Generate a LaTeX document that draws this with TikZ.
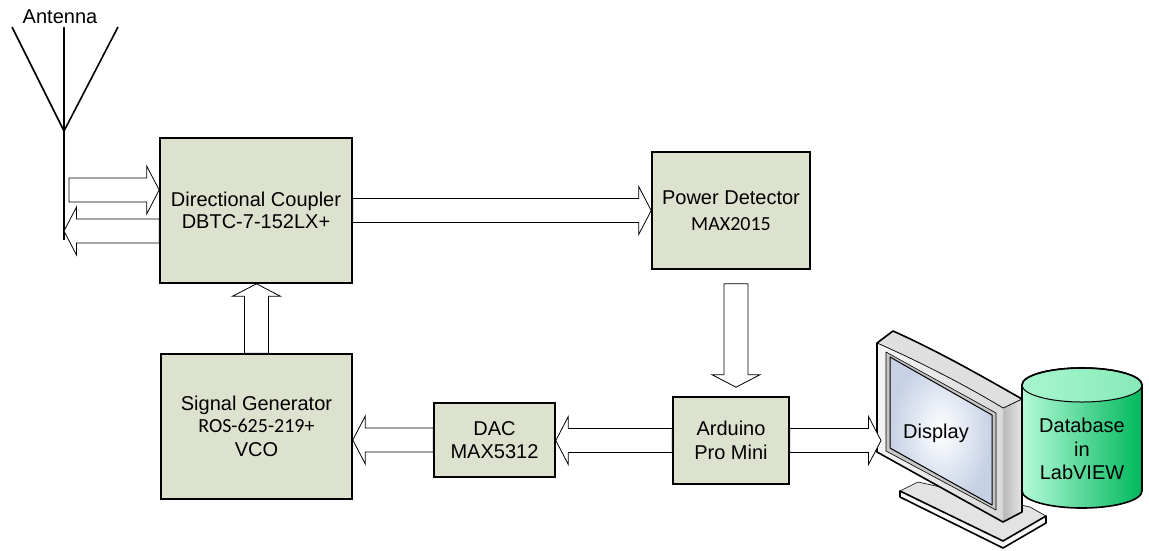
\documentclass[tikz,border=0pt]{standalone}
\usepackage{fontspec}
\setmainfont{Liberation Sans}
\newfontfamily\partfont{Carlito}
\usetikzlibrary{calc}

\definecolor{boxfill}{RGB}{221,226,206}
\definecolor{screenblue}{RGB}{198,209,230}
\definecolor{dbleft}{RGB}{180,250,216}
\definecolor{dbright}{RGB}{0,184,92}
\definecolor{dbtop}{RGB}{168,246,206}

% hollow block arrow from tail #2 to tip #3
\newcommand{\bkarrow}[3][]{%
  \path (#2) coordinate (ba-s) (#3) coordinate (ba-t);
  \path ($(ba-t)!12.5pt!(ba-s)$) coordinate (ba-n);
  \draw[arrowline,#1] ($(ba-s)!12pt!90:(ba-t)$)
    -- ($(ba-n)!12pt!-90:(ba-s)$) -- ($(ba-n)!24pt!-90:(ba-s)$)
    -- (ba-t)
    -- ($(ba-n)!24pt!90:(ba-s)$) -- ($(ba-n)!12pt!90:(ba-s)$)
    -- ($(ba-s)!12pt!-90:(ba-t)$) -- cycle;
}

\begin{document}
\begin{tikzpicture}[x=1pt,y=-1pt,
  blockbox/.style={draw=black, line width=1.6pt, fill=boxfill, align=center,
    font=\fontsize{20}{23.5}\selectfont, inner sep=0pt},
  label/.style={align=center, inner sep=0pt, font=\fontsize{20}{23.5}\selectfont},
  arrowline/.style={draw=black, line width=0.8pt, fill=white, line join=miter},
  antline/.style={draw=black, line width=1.6pt},
  monline/.style={draw=black, line width=0.6pt, line join=round},
  monedge/.style={draw=black, line width=1.6pt, line join=round}]
\useasboundingbox (0,0) rectangle (1149,550);

% antenna
\coordinate (antL) at (12,27);
\coordinate (antC) at (64,27);
\coordinate (antR) at (118,27);
\coordinate (antJ) at (64,131);
\coordinate (antF) at (64,240);
\draw[antline] (antL) -- (antJ) -- (antR);
\draw[antline] (antC) -- (antF);
\node[label] (antlabel) at (60,17) {Antenna};

% function blocks
\node[blockbox, minimum width=192pt, minimum height=145pt,
      font=\fontsize{20}{22.5}\selectfont] (dc) at (256,210.5)
      {Directional Coupler\\DBTC-7-152LX+};
\node[blockbox, minimum width=158pt, minimum height=117pt] (pd) at (731,210.5)
      {Power Detector\\[3pt]{\partfont\fontsize{20}{23.5}\selectfont MAX2015}};
\node[blockbox, minimum width=191pt, minimum height=145pt] (sg) at (256.5,426.5)
      {Signal Generator\\[-1.5pt]{\partfont\fontsize{20}{23.5}\selectfont ROS-625-219+}\\[1pt]VCO};
\node[blockbox, minimum width=121pt, minimum height=74pt] (dac) at (494.5,440)
      {DAC\\MAX5312};
\node[blockbox, minimum width=116pt, minimum height=87pt] (ard) at (731,440.5)
      {Arduino\\Pro Mini};

% monitor stand
\draw[monline, fill=gray!22] (918,482) -- (900,491) -- (1003,541) -- (1046,516) -- (1030,507) -- cycle;
\draw[monedge, fill=gray!6] (900,491) -- (900,497) -- (1003,548) -- (1046,523) -- (1046,516) -- (1003,541) -- cycle;
% monitor housing
\shade[left color=gray!55, right color=gray!20]
  (1003,408) -- (1022,399) -- (1022,512) -- (1003,522) -- cycle;
\draw[monline] (1003,408) -- (1022,399) -- (1022,512) -- (1003,522);
\draw[monline, fill=gray!25]
  (877,343) -- (893,331) .. controls (940,352) and (985,378) .. (1022,399)
  -- (1003,408) .. controls (965,385) and (920,362) .. (877,343) -- cycle;
\shade[left color=gray!8, right color=gray!30]
  (877,343) .. controls (920,362) and (965,385) .. (1003,408)
  -- (1003,522) -- (877,452) -- cycle;
\draw[monline]
  (877,343) .. controls (920,362) and (965,385) .. (1003,408);
% screen
\draw[monline, fill=gray!45] (886,352) -- (996,413) -- (996,510) -- (886,451) -- cycle;
\shade[inner color=white, outer color=screenblue]
  (890,357) -- (992,415) -- (992,505) -- (890,448) -- cycle;
\draw[monline, line width=1pt] (890,357) -- (992,415) -- (992,505) -- (890,448) -- cycle;
% monitor silhouette
\draw[monedge]
  (877,452) -- (877,343) -- (893,331) .. controls (940,352) and (985,378) .. (1022,399)
  -- (1022,512) -- (1003,522) -- cycle;
\node[label] (disp) at (936,433) {Display};

% database cylinder
\path[draw=black, line width=1.6pt, left color=dbleft, right color=dbright]
  (1022,385) -- (1022,491)
  arc[start angle=180, end angle=360, x radius=60pt, y radius=17pt]
  -- (1142,385)
  arc[start angle=0, end angle=180, x radius=60pt, y radius=17pt] -- cycle;
\path[draw=black, line width=1pt, left color=dbtop, right color=dbtop!80!dbright]
  (1082,385) ellipse[x radius=60pt, y radius=17pt];
\draw[black, line width=1.6pt] (1022,385)
  arc[start angle=180, end angle=0, x radius=60pt, y radius=17pt];
\node[label] (db) at (1082,449) {Database\\in\\LabVIEW};

% signal flow
\coordinate (txin) at (69,190);
\coordinate (rxtail) at ($(dc.west)+(0,20.5)$);
\coordinate (dettail) at ($(pd.south)+(5,14)$);
\coordinate (dettip) at ($(ard.north)+(5,-9)$);
\coordinate (dispin) at (881,440.5);
\bkarrow{txin}{dc.west |- txin}
\bkarrow{rxtail}{antJ |- rxtail}
\bkarrow{dc.east}{pd.west}
\bkarrow{dettail}{dettip}
\bkarrow{sg.north}{sg.north |- dc.south}
\bkarrow{ard.west}{dac.east |- ard.west}
\bkarrow{dac.west}{sg.east |- dac.west}
\bkarrow{ard.east}{dispin}
\end{tikzpicture}
\end{document}
